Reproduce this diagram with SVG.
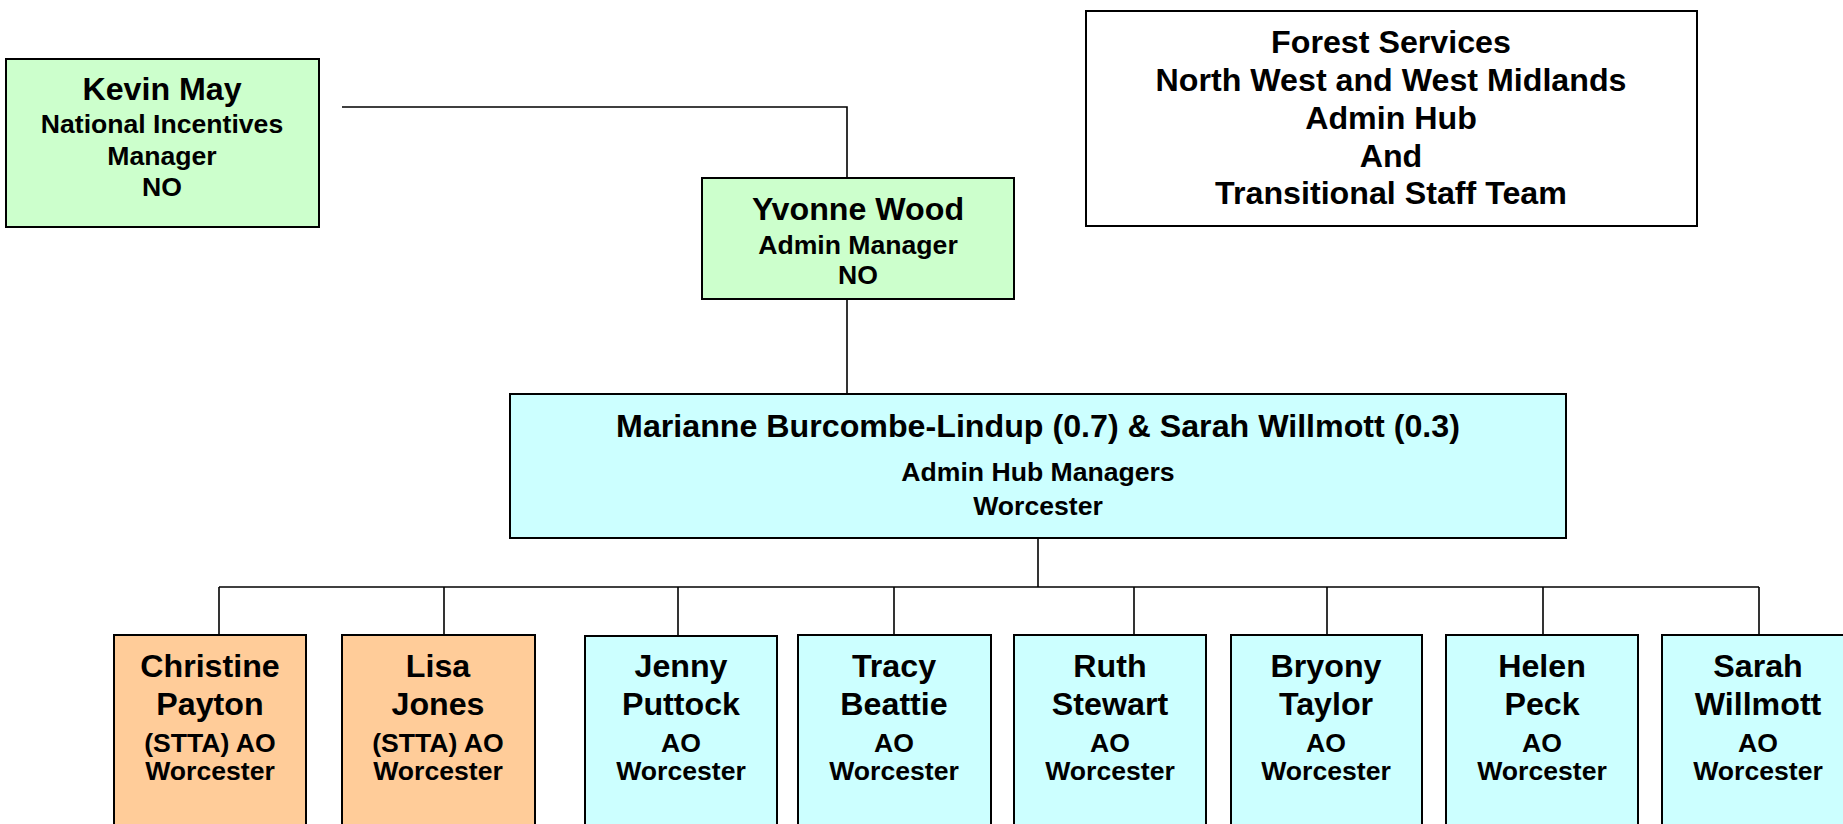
<svg xmlns="http://www.w3.org/2000/svg" width="1843" height="824" viewBox="0 0 1843 824">
<style>
.box{stroke:#000;stroke-width:2}
.g{fill:#CCFFCC}
.c{fill:#CCFFFF}
.o{fill:#FFCC99}
.w{fill:#FFFFFF}
text{font-family:"Liberation Sans",Arial,sans-serif;font-weight:bold;fill:#000;text-anchor:middle}
.big{font-size:32.2px}
.sm{font-size:26.6px}
.conn line,.conn polyline{stroke:#000;stroke-width:1.6;fill:none}
</style>
<rect width="1843" height="824" fill="#fff"/>
<g class="conn" id="connectors">
<polyline points="342,107 847,107 847,178"/>
<line x1="847" y1="299" x2="847" y2="394"/>
<line x1="1038" y1="538" x2="1038" y2="587"/>
<line x1="219" y1="587" x2="1759" y2="587"/>
<line x1="219" y1="587" x2="219" y2="635"/>
<line x1="444" y1="587" x2="444" y2="635"/>
<line x1="678" y1="587" x2="678" y2="636"/>
<line x1="894" y1="587" x2="894" y2="635"/>
<line x1="1134" y1="587" x2="1134" y2="635"/>
<line x1="1327" y1="587" x2="1327" y2="635"/>
<line x1="1543" y1="587" x2="1543" y2="635"/>
<line x1="1759" y1="587" x2="1759" y2="635"/>
</g>
<g id="title">
<rect class="box w" x="1086" y="11" width="611" height="215"/>
<text class="big" x="1391" y="53">Forest Services</text>
<text class="big" x="1391" y="91">North West and West Midlands</text>
<text class="big" x="1391" y="129">Admin Hub</text>
<text class="big" x="1391" y="167">And</text>
<text class="big" x="1391" y="204">Transitional Staff Team</text>
</g>
<g id="kevin">
<rect class="box g" x="6" y="59" width="313" height="168"/>
<text class="big" x="162" y="100">Kevin May</text>
<text class="sm" x="162" y="133">National Incentives</text>
<text class="sm" x="162" y="165">Manager</text>
<text class="sm" x="162" y="196">NO</text>
</g>
<g id="yvonne">
<rect class="box g" x="702" y="178" width="312" height="121"/>
<text class="big" x="858" y="220">Yvonne Wood</text>
<text class="sm" x="858" y="254">Admin Manager</text>
<text class="sm" x="858" y="284">NO</text>
</g>
<g id="marianne">
<rect class="box c" x="510" y="394" width="1056" height="144"/>
<text class="big" x="1038" y="437">Marianne Burcombe-Lindup (0.7) &amp; Sarah Willmott (0.3)</text>
<text class="sm" x="1038" y="481">Admin Hub Managers</text>
<text class="sm" x="1038" y="515">Worcester</text>
</g>
<g id="christine">
<rect class="box o" x="114" y="635" width="192" height="200"/>
<text class="big" x="210" y="677">Christine</text>
<text class="big" x="210" y="715">Payton</text>
<text class="sm" x="210" y="752">(STTA) AO</text>
<text class="sm" x="210" y="780">Worcester</text>
</g>
<g id="lisa">
<rect class="box o" x="342" y="635" width="193" height="200"/>
<text class="big" x="438" y="677">Lisa</text>
<text class="big" x="438" y="715">Jones</text>
<text class="sm" x="438" y="752">(STTA) AO</text>
<text class="sm" x="438" y="780">Worcester</text>
</g>
<g id="jenny">
<rect class="box c" x="585" y="636" width="192" height="200"/>
<text class="big" x="681" y="677">Jenny</text>
<text class="big" x="681" y="715">Puttock</text>
<text class="sm" x="681" y="752">AO</text>
<text class="sm" x="681" y="780">Worcester</text>
</g>
<g id="tracy">
<rect class="box c" x="798" y="635" width="193" height="200"/>
<text class="big" x="894" y="677">Tracy</text>
<text class="big" x="894" y="715">Beattie</text>
<text class="sm" x="894" y="752">AO</text>
<text class="sm" x="894" y="780">Worcester</text>
</g>
<g id="ruth">
<rect class="box c" x="1014" y="635" width="192" height="200"/>
<text class="big" x="1110" y="677">Ruth</text>
<text class="big" x="1110" y="715">Stewart</text>
<text class="sm" x="1110" y="752">AO</text>
<text class="sm" x="1110" y="780">Worcester</text>
</g>
<g id="bryony">
<rect class="box c" x="1231" y="635" width="191" height="200"/>
<text class="big" x="1326" y="677">Bryony</text>
<text class="big" x="1326" y="715">Taylor</text>
<text class="sm" x="1326" y="752">AO</text>
<text class="sm" x="1326" y="780">Worcester</text>
</g>
<g id="helen">
<rect class="box c" x="1446" y="635" width="192" height="200"/>
<text class="big" x="1542" y="677">Helen</text>
<text class="big" x="1542" y="715">Peck</text>
<text class="sm" x="1542" y="752">AO</text>
<text class="sm" x="1542" y="780">Worcester</text>
</g>
<g id="sarah">
<rect class="box c" x="1662" y="635" width="192" height="200"/>
<text class="big" x="1758" y="677">Sarah</text>
<text class="big" x="1758" y="715">Willmott</text>
<text class="sm" x="1758" y="752">AO</text>
<text class="sm" x="1758" y="780">Worcester</text>
</g>
</svg>
